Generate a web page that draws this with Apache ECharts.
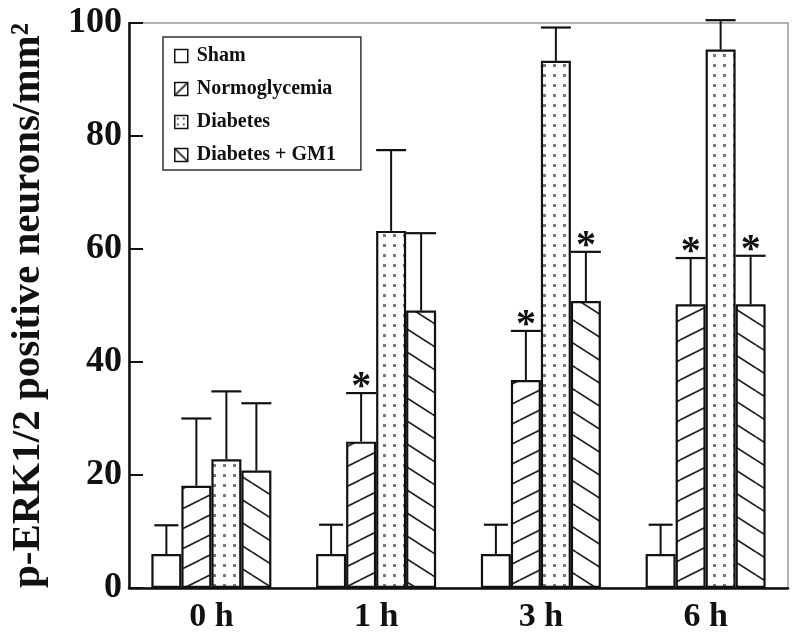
<!DOCTYPE html>
<html>
<head>
<meta charset="utf-8">
<script src="https://cdn.jsdelivr.net/npm/echarts@6/dist/echarts.min.js"></script>
<style>
  html, body { margin: 0; padding: 0; background: #fff; }
  #chart { width: 800px; height: 637px; }
</style>
</head>
<body>
<div id="chart"></div>
<script>
// ---- data ----
const categories = ['0 h', '1 h', '3 h', '6 h'];
const seriesNames = ['Sham', 'Normoglycemia', 'Diabetes', 'Diabetes + GM1'];
const shamValues = [6.0, 6.0, 6.0, 6.0];
const shamErrTop = [11.1, 11.2, 11.2, 11.2];
const normoValues = [18.1, 25.9, 36.8, 50.2];
const normoErrTop = [30.0, 34.5, 45.5, 58.4];
const diabetesValues = [22.8, 63.2, 93.3, 95.3];
const diabetesErrTop = [34.8, 77.5, 99.2, 100.5];
const gm1Values = [20.8, 49.1, 50.8, 50.2];
const gm1ErrTop = [32.7, 62.8, 59.5, 58.8];
const shamSig = [0, 0, 0, 0];
const normoSig = [0, 1, 1, 1];
const diabetesSig = [0, 0, 0, 0];
const gm1Sig = [0, 0, 1, 1];
const yTicks = [0, 20, 40, 60, 80, 100];

const allValues = [shamValues, normoValues, diabetesValues, gm1Values];
const allErr = [shamErrTop, normoErrTop, diabetesErrTop, gm1ErrTop];
const allSig = [shamSig, normoSig, diabetesSig, gm1Sig];

// ---- patterns ----
function makeCanvas(w, h, draw) {
  const c = document.createElement('canvas');
  c.width = w; c.height = h;
  const ctx = c.getContext('2d');
  ctx.fillStyle = '#fff';
  ctx.fillRect(0, 0, w, h);
  draw(ctx, w, h);
  return c;
}
function lines(ctx, w, h, up) {
  ctx.strokeStyle = '#222'; ctx.lineWidth = 1.7;
  for (let k = -1; k <= 1; k++) {
    ctx.beginPath();
    if (up) { ctx.moveTo(0, h + k * h); ctx.lineTo(w, k * h); }
    else { ctx.moveTo(0, k * h); ctx.lineTo(w, h + k * h); }
    ctx.stroke();
  }
}
const patWhite = '#ffffff';
const patForward = makeCanvas(40, 20, (ctx, w, h) => lines(ctx, w, h, true));
const patDots = makeCanvas(10, 10, (ctx) => {
  ctx.fillStyle = '#7a7a7a';
  ctx.fillRect(3, 4, 3, 3);
});
const patBack = makeCanvas(36, 23, (ctx, w, h) => lines(ctx, w, h, false));
// small legend-icon versions
const iconForward = makeCanvas(13, 13, (ctx, w, h) => lines(ctx, w, h, true));
const iconBack = makeCanvas(13, 13, (ctx, w, h) => lines(ctx, w, h, false));
const iconDots = makeCanvas(6, 6, (ctx) => { ctx.fillStyle = '#666'; ctx.fillRect(2, 2, 2, 2); });

const fills = [
  patWhite,
  { image: patForward, repeat: 'repeat' },
  { image: patDots, repeat: 'repeat' },
  { image: patBack, repeat: 'repeat' }
];
const iconFills = [
  patWhite,
  { image: iconForward, repeat: 'repeat' },
  { image: iconDots, repeat: 'repeat' },
  { image: iconBack, repeat: 'repeat' }
];
const capWidths = [24, 30, 30, 30];
const BAR_W = 30;
const FONT = 'Liberation Serif';

const chart = echarts.init(document.getElementById('chart'), null, { renderer: 'canvas' });

const barSeries = seriesNames.map((name, i) => ({
  name: name,
  type: 'bar',
  barWidth: BAR_W,
  barGap: '0%',
  data: allValues[i],
  itemStyle: { color: fills[i], borderColor: '#111', borderWidth: 2.2 },
  z: 3
}));

const errSeries = seriesNames.map((name, i) => ({
  name: 'err' + i,
  type: 'custom',
  clip: false,
  z: 2,
  encode: { x: 0, y: [1, 2] },
  data: categories.map((c, j) => [j, allValues[i][j], allErr[i][j], allSig[i][j]]),
  renderItem: function (params, api) {
    const x = api.value(0), v = api.value(1), e = api.value(2), s = api.value(3);
    const p0 = api.coord([x, v]);
    const p1 = api.coord([x, e]);
    const cx = p0[0] + (i - 1.5) * BAR_W;
    const cw = capWidths[i];
    const children = [
      { type: 'line', shape: { x1: cx, y1: p0[1], x2: cx, y2: p1[1] }, style: { stroke: '#111', lineWidth: 2 } },
      { type: 'line', shape: { x1: cx - cw / 2, y1: p1[1], x2: cx + cw / 2, y2: p1[1] }, style: { stroke: '#111', lineWidth: 2.2 } }
    ];
    if (s) {
      children.push({
        type: 'text',
        style: { text: '*', x: cx, y: p1[1] + 15, textAlign: 'center', textVerticalAlign: 'bottom',
                 font: 'bold 40px "Liberation Serif"', fill: '#111' }
      });
    }
    return { type: 'group', children: children };
  }
}));

chart.setOption({
  animation: false,
  backgroundColor: '#fff',
  grid: { left: 129, right: 12, top: 23, bottom: 49, show: true, borderColor: '#999', borderWidth: 1.5, backgroundColor: 'transparent' },
  legend: {
    data: seriesNames.map((n, i) => ({ name: n, itemStyle: { color: iconFills[i], borderColor: '#111', borderWidth: 1.5 } })),
    orient: 'vertical',
    left: 163, top: 37,
    itemWidth: 13, itemHeight: 13, itemGap: 13,
    padding: [9, 25, 5, 11],
    backgroundColor: '#fff',
    borderColor: '#333', borderWidth: 1.5,
    icon: 'rect',
    textStyle: { fontFamily: FONT, fontWeight: 'bold', fontSize: 20, color: '#111', padding: [0, 0, 0, 4] },
    itemStyle: { borderColor: '#111', borderWidth: 1.5 }
  },
  xAxis: {
    type: 'category',
    data: categories,
    boundaryGap: true,
    axisLine: { lineStyle: { color: '#111', width: 2.5 } },
    axisTick: { inside: true, length: 14, lineStyle: { color: '#111', width: 2 } },
    axisLabel: { fontFamily: FONT, fontWeight: 'bold', fontSize: 34, color: '#111', margin: 12 },
    splitLine: { show: false }
  },
  yAxis: {
    type: 'value',
    min: 0, max: 100, interval: 20,
    name: 'p-ERK1/2 positive neurons/mm²',
    nameLocation: 'middle',
    nameGap: 80,
    nameTextStyle: { fontFamily: FONT, fontWeight: 'bold', fontSize: 41, color: '#111' },
    axisLine: { show: true, lineStyle: { color: '#111', width: 2.5 } },
    axisTick: { show: true, inside: true, length: 14, lineStyle: { color: '#111', width: 2 } },
    axisLabel: { fontFamily: FONT, fontWeight: 'bold', fontSize: 36, color: '#111', margin: 7,
                 formatter: function (v) { return yTicks.indexOf(v) >= 0 ? String(v) : ''; } },
    splitLine: { show: false }
  },
  series: barSeries.concat(errSeries)
});
</script>
</body>
</html>
